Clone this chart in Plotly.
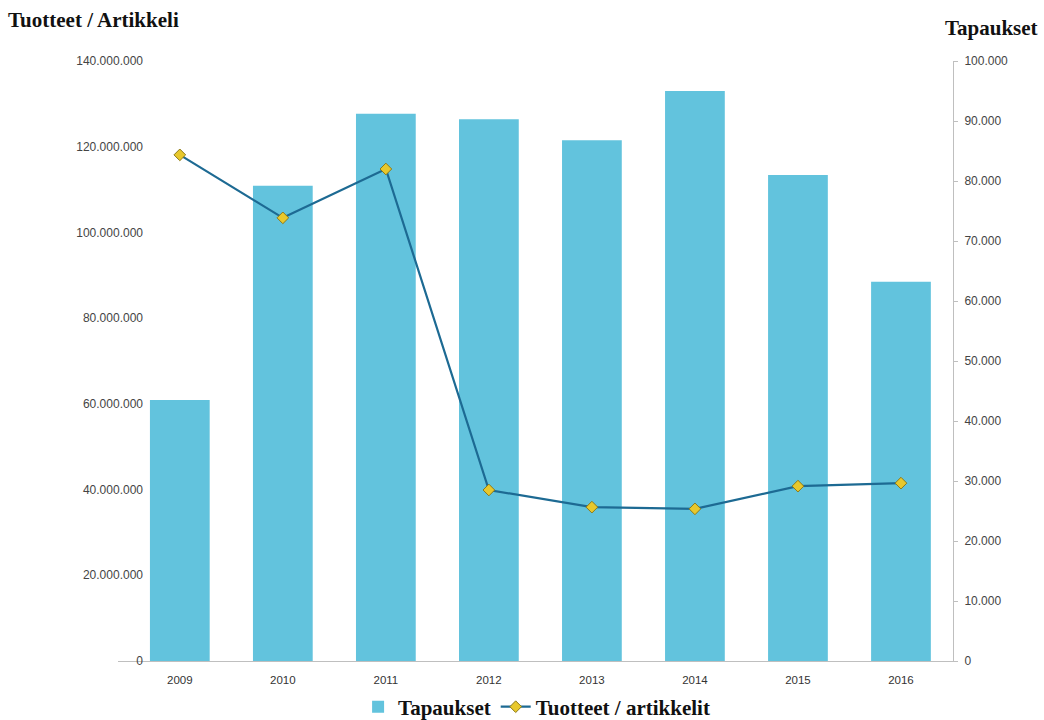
import plotly.graph_objects as go

years = ["2009", "2010", "2011", "2012", "2013", "2014", "2015", "2016"]
tapaukset = [43500, 79200, 91200, 90300, 86800, 95000, 81000, 63200]
tuotteet = [118100000, 103400000, 114800000, 39900000, 35900000, 35500000, 40800000, 41500000]

left_ticks = [0, 20e6, 40e6, 60e6, 80e6, 100e6, 120e6, 140e6]
left_labels = ["0", "20.000.000", "40.000.000", "60.000.000", "80.000.000",
               "100.000.000", "120.000.000", "140.000.000"]
right_ticks = [0, 10000, 20000, 30000, 40000, 50000, 60000, 70000, 80000, 90000, 100000]
right_labels = ["0", "10.000", "20.000", "30.000", "40.000", "50.000", "60.000",
                "70.000", "80.000", "90.000", "100.000"]

fig = go.Figure()
fig.add_trace(go.Bar(
    x=years, y=tapaukset, name="Tapaukset", yaxis="y",
    marker=dict(color="#62C3DD", line=dict(width=0)), width=0.58,
))
fig.add_trace(go.Scatter(
    x=years, y=tuotteet, name="Tuotteet / artikkelit", yaxis="y2",
    mode="lines+markers",
    line=dict(color="#1D6A93", width=2.2),
    marker=dict(symbol="diamond", size=9, color="#E8C82C",
                line=dict(color="#8C7A1A", width=1)),
))

fig.update_layout(
    width=1044, height=720,
    margin=dict(l=118, r=91, t=61, b=59, autoexpand=False),
    paper_bgcolor="white", plot_bgcolor="white",
    showlegend=True,
    legend=dict(orientation="h", xref="container", yref="container",
                x=0.343, y=0.018, xanchor="left", yanchor="middle",
                font=dict(family="Liberation Serif", size=21, color="#111", weight="bold"),
                traceorder="normal", bgcolor="rgba(0,0,0,0)"),
    xaxis=dict(type="category", range=[-0.6, 7.505], showline=True,
               linecolor="#BFBFBF", linewidth=1, showgrid=False,
               ticks="", tickfont=dict(family="Liberation Sans", size=11.5, color="#333"),
               ticklabelstandoff=8),
    yaxis2=dict(range=[0, 140e6], tickvals=left_ticks, ticktext=left_labels,
                overlaying="y", side="left",
                showgrid=False, showline=False, zeroline=False, ticks="",
                tickfont=dict(family="Liberation Sans", size=12, color="#444"),
                ticklabelstandoff=-26),
    yaxis=dict(range=[0, 100000], tickvals=right_ticks, ticktext=right_labels,
               side="right", showgrid=False, showline=True,
               linecolor="#BFBFBF", linewidth=1, zeroline=False,
               ticks="outside", ticklen=4, tickcolor="#BFBFBF",
               tickfont=dict(family="Liberation Sans", size=12, color="#444"),
               ticklabelstandoff=4),
    annotations=[
        dict(text="<b>Tuotteet / Artikkeli</b>", xref="paper", yref="paper",
             x=-112/835, y=1 + 41/600, xanchor="left", yanchor="middle",
             showarrow=False, font=dict(family="Liberation Serif", size=21, color="#111")),
        dict(text="<b>Tapaukset</b>", xref="paper", yref="paper",
             x=(943-118)/835, y=1 + 33/600, xanchor="left", yanchor="middle",
             showarrow=False, font=dict(family="Liberation Serif", size=21, color="#111")),
    ],
)

fig.write_html("out.html")
